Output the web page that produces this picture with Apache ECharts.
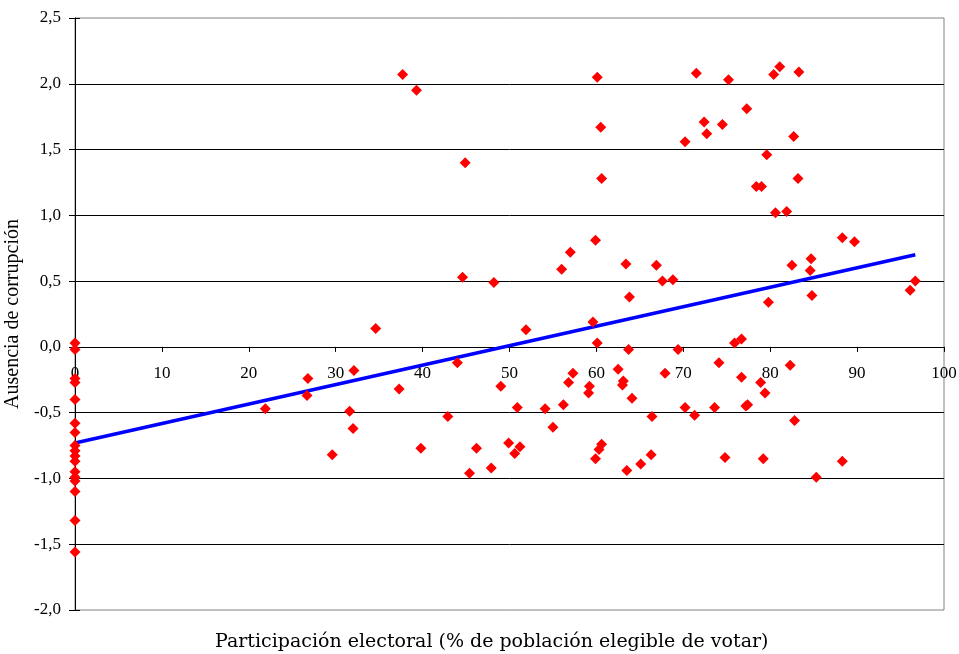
<!DOCTYPE html>
<html>
<head>
<meta charset="utf-8">
<script src="https://cdn.jsdelivr.net/npm/echarts@6/dist/echarts.min.js"></script>
<style>
  html, body { margin: 0; padding: 0; background: #fff; }
  #chart { width: 959px; height: 654px; }
</style>
</head>
<body>
<div id="chart"></div>
<script>
// participación electoral (%) y ausencia de corrupción, un punto por país
const turnout = [
  0, 0, 0, 0, 0, 0, 0, 0, 0, 0, 0, 0, 0, 0, 0, 0, 0,
  21.9, 26.8, 26.7, 29.6, 31.6, 32.1, 32.0, 34.6, 37.3, 37.7,
  39.3, 39.8, 42.9, 44.0, 44.6, 44.9, 45.4, 46.2, 47.9, 48.2,
  49.0, 49.9, 50.6, 50.9, 51.2, 51.9, 54.1, 55.0, 56.0, 56.2,
  56.8, 57.0, 57.3, 59.1, 59.2, 59.6, 59.9, 59.9, 60.1, 60.1,
  60.3, 60.5, 60.6, 60.6, 62.5, 63.0, 63.1, 63.4, 63.5, 63.7,
  63.8, 64.1, 65.1, 66.3, 66.4, 66.9, 67.6, 67.9, 68.8, 69.4,
  70.2, 70.2, 71.3, 71.5, 72.4, 72.7, 73.6, 74.1, 74.5, 74.8,
  75.2, 75.9, 76.7, 76.7, 77.2, 77.3, 77.4, 78.4, 78.9, 79.0,
  79.2, 79.4, 79.6, 79.8, 80.4, 80.6, 81.1, 81.9, 82.3, 82.5,
  82.7, 82.8, 83.2, 83.3, 84.6, 84.7, 84.8, 85.3, 88.3, 88.3,
  89.7, 96.1, 96.7
];
const corruption = [
  0.03, -0.02, -0.24, -0.27, -0.40, -0.58, -0.65, -0.75, -0.79, -0.83, -0.87, -0.95, -0.99, -1.02, -1.10, -1.32, -1.56,
  -0.47, -0.24, -0.37, -0.82, -0.49, -0.18, -0.62, 0.14, -0.32, 2.07,
  1.95, -0.77, -0.53, -0.12, 0.53, 1.40, -0.96, -0.77, -0.92, 0.49,
  -0.30, -0.73, -0.81, -0.46, -0.76, 0.13, -0.47, -0.61, 0.59, -0.44,
  -0.27, 0.72, -0.20, -0.35, -0.30, 0.19, 0.81, -0.85, 2.05, 0.03,
  -0.78, 1.67, 1.28, -0.74, -0.17, -0.29, -0.26, 0.63, -0.94, -0.02,
  0.38, -0.39, -0.89, -0.82, -0.53, 0.62, 0.50, -0.20, 0.51, -0.02,
  1.56, -0.46, -0.52, 2.08, 1.71, 1.62, -0.46, -0.12, 1.69, -0.84,
  2.03, 0.03, 0.06, -0.23, -0.45, 1.81, -0.44, 1.22, -0.27, 1.22,
  -0.85, -0.35, 1.46, 0.34, 2.07, 1.02, 2.13, 1.03, -0.14, 0.62,
  1.60, -0.56, 1.28, 2.09, 0.58, 0.67, 0.39, -0.99, 0.83, -0.87,
  0.80, 0.43, 0.50
];
// recta de tendencia
const trendX = [0, 96.7];
const trendY = [-0.73, 0.70];

const xTicks = { min: 0, max: 100, step: 10 };
const yTicks = { min: -2, max: 2.5, step: 0.5 };

const serif = 'Liberation Serif';
const fmtComma = (v) => v.toFixed(1).replace('.', ',');

const gridBox = { left: 75, right: 15, top: 18, bottom: 44 };
const plotH = 654 - gridBox.top - gridBox.bottom;
// el eje X cruza en y = 0: se sube desde el borde inferior
const xAxisLift = -plotH * (0 - yTicks.min) / (yTicks.max - yTicks.min);

const chart = echarts.init(document.getElementById('chart'));

const option = {
  backgroundColor: '#fff',
  animation: false,
  title: {
    text: 'Participación electoral (% de población elegible de votar)',
    left: 210,
    top: 628,
    textStyle: { fontFamily: 'DejaVu Serif', fontSize: 19, fontWeight: 'normal', color: '#000' }
  },
  grid: {
    ...gridBox,
    containLabel: false,
    outerBoundsMode: 'none',
    show: true,
    borderColor: '#808080',
    borderWidth: 1
  },
  xAxis: {
    type: 'value',
    min: xTicks.min,
    max: xTicks.max,
    interval: xTicks.step,
    position: 'bottom',
    offset: xAxisLift,
    axisLine: { onZero: false, lineStyle: { color: '#000', width: 1 } },
    axisTick: { show: true, length: 5, lineStyle: { color: '#000' } },
    axisLabel: { margin: 18, fontFamily: serif, fontSize: 17, color: '#000' },
    splitLine: { show: false }
  },
  yAxis: [
    {
      type: 'value',
      min: yTicks.min,
      max: yTicks.max,
      interval: yTicks.step,
      name: 'Ausencia de corrupción',
      nameLocation: 'middle',
      nameGap: 43,
      nameTextStyle: { fontFamily: serif, fontSize: 20, color: '#000' },
      axisLine: { show: true, onZero: false, lineStyle: { color: '#000', width: 1 } },
      axisTick: { show: true, length: 6, lineStyle: { color: '#000' } },
      axisLabel: { margin: 14, fontFamily: serif, fontSize: 17, color: '#000', formatter: fmtComma },
      splitLine: { show: true, showMinLine: false, showMaxLine: false, lineStyle: { color: '#000', width: 1 } }
    },
    {
      type: 'value',
      min: yTicks.min,
      max: yTicks.max,
      interval: yTicks.step,
      position: 'left',
      offset: 0,
      axisLine: { show: false, onZero: false },
      axisTick: { show: true, inside: true, length: 5, lineStyle: { color: '#000' } },
      axisLabel: { show: false },
      splitLine: { show: false }
    }
  ],
  series: [
    {
      name: 'Tendencia',
      type: 'line',
      data: trendX.map((x, i) => [x, trendY[i]]),
      symbol: 'none',
      lineStyle: { color: '#0000ff', width: 3.5 },
      z: 2
    },
    {
      name: 'Países',
      type: 'scatter',
      data: turnout.map((x, i) => [x, corruption[i]]),
      symbol: 'diamond',
      symbolSize: 11,
      itemStyle: { color: '#ff0000', opacity: 1 },
      z: 3
    }
  ]
};

chart.setOption(option);
</script>
</body>
</html>
